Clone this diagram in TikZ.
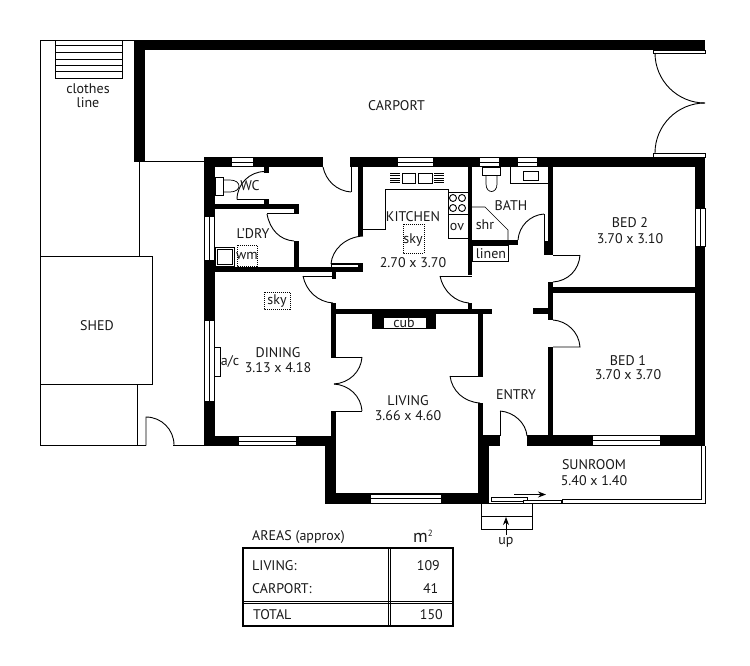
\documentclass[tikz,border=0pt]{standalone}
\usepackage{fontspec}
\usetikzlibrary{arrows.meta}
\setmainfont{PT Sans}
\tikzset{
  wall/.style={fill=black,draw=none},
  thin line/.style={draw=black,line width=0.9pt},
  fine/.style={draw=black,line width=0.7pt},
  winpane/.style={draw=black,fill=white,line width=0.7pt},
  txt/.style={inner sep=0pt,yshift=-0.8pt,font=\fontsize{14}{15}\selectfont,text=black!90},
  dots/.style={draw=black,line width=0.9pt,dash pattern=on 1pt off 1pt},
  tip/.style={-{Stealth[length=8pt,width=6pt]}},
}
\newcommand{\wallrect}[4]{\fill[wall] (#1,#2) rectangle (#3,#4);}
% horizontal window in wall
\newcommand{\hwin}[4]{\filldraw[winpane] (#1,#3) rectangle (#2,#4);\draw[fine] (#1,{(#3+#4)/2}) -- (#2,{(#3+#4)/2});}
\begin{document}
\begin{tikzpicture}[x=1pt,y=-1pt]
\useasboundingbox (0,0) rectangle (750,665);
\fill[white] (0,0) rectangle (750,665);
% site lines
\draw[thin line] (134,40) -- (40,40) -- (40,445.5) -- (146,445.5);
\draw[thin line] (173,445.5) -- (205,445.5);
\draw[thin line] (139,162) -- (139,256);
\draw[thin line] (145,161.5) -- (205,161.5);
\draw[thin line] (137,384) -- (137,445.5);
% clothes line
\draw[thin line] (55,40) -- (55,78) -- (122,78) -- (122,40);
\foreach \yy in {45.7,52.3,59,65,71.7} \draw[thin line] (55,\yy) -- (122,\yy);
% shed
\filldraw[draw=black,fill=white,line width=1pt] (40,256) rectangle (152,384);
% side door
\draw[thin line] (146,445.5) -- (146,417) arc[start angle=-90,end angle=0,radius=28];
% carport
\wallrect{134}{40}{705}{50}
\wallrect{134}{40}{145}{162}
\filldraw[winpane] (653,50) rectangle (705,53);
\filldraw[winpane] (653,153) rectangle (705,157);
\draw[thin line] (655,53) arc[start angle=180,end angle=90,radius=50];
\draw[thin line] (655,153) arc[start angle=180,end angle=270,radius=50];
% house outer walls
\wallrect{204}{157}{323}{167}
\wallrect{350}{157}{705}{167}
\wallrect{204}{157}{214.5}{446}
\wallrect{695}{157}{705}{446}
\wallrect{204}{436}{336}{446}
\wallrect{325}{436}{336}{504}
\wallrect{325}{493}{489}{504}
\wallrect{478}{436}{489}{504}
\wallrect{478}{435}{500}{446}
\wallrect{527}{435}{705}{446}
% windows
\hwin{231}{253}{157.5}{166.5}
\hwin{397}{433}{157.5}{166.5}
\hwin{479}{499}{157.5}{166.5}
\hwin{517}{537}{157.5}{166.5}
\hwin{238}{296}{436.5}{445.5}
\hwin{370}{441}{494}{503.5}
\hwin{592}{660}{435.5}{445.5}
\filldraw[winpane] (204.5,216) rectangle (214.5,260);\draw[fine] (209.5,216) -- (209.5,260);
\filldraw[winpane] (204.5,320) rectangle (214.5,401);\draw[fine] (209.5,320) -- (209.5,401);
\filldraw[winpane] (695.5,208) rectangle (705,246);\draw[fine] (700,208) -- (700,246);
% WC door & laundry walls
\wallrect{263.5}{167}{269}{173}
\wallrect{264}{199}{269}{205}
\wallrect{214}{204}{299}{209}
\wallrect{294}{204}{299}{214}
\wallrect{294}{241}{299}{268}
\wallrect{214}{267}{336}{272}
\wallrect{331}{263}{363}{272}
\filldraw[winpane] (331,264) rectangle (358,267);
\wallrect{332}{272}{336}{279}
\draw[thin line] (237,199.5) -- (264,199.5);
\draw[thin line] (237,199.5) arc[start angle=180,end angle=270,radius=28];
\draw[line width=1.2pt] (267,213.5) -- (294,213.5);
\draw[thin line] (267,214) .. controls (270,230) and (280,240) .. (294,241);
% door from hall top
\draw[thin line] (323,167) .. controls (326,181) and (337,191) .. (351,192);
\draw[thin line] (351,192) -- (351,167);
% kitchen left wall and door
\wallrect{358}{167}{363}{236}
\draw[thin line] (331,264) .. controls (332,250) and (345,237) .. (363,236);
% dining door
\draw[thin line] (303,276) -- (332,276);
\draw[thin line] (303,276) .. controls (306,291) and (318,302) .. (333,303);
\wallrect{331}{303}{336}{357}
\wallrect{331}{411}{336}{437}
% double door
\draw[thin line] (331,357) -- (362,357);
\draw[thin line] (331,411) -- (362,411);
\draw[thin line] (362,357) .. controls (361,372) and (349,383) .. (334,384);
\draw[thin line] (362,411) .. controls (361,396) and (349,385) .. (334,384);
% living top wall + cub
\wallrect{331}{308.5}{492}{314}
\wallrect{372}{308.5}{436}{329}
\filldraw[draw=black,fill=white,line width=0.5pt] (383,317) rectangle (426,328);
% living right wall + door
\wallrect{478}{314}{483}{376}
\wallrect{478}{403}{483}{436}
\draw[thin line] (483,376) -- (450,376);
\draw[thin line] (450,376) .. controls (452,391) and (464,402) .. (480,403);
% kitchen / bath wall and door
\wallrect{468}{167}{472}{275}
\draw[thin line] (440,276) -- (472,276);
\draw[thin line] (440,276) .. controls (443,291) and (455,302) .. (469,303);
\wallrect{468}{303}{472}{309}
\wallrect{472}{240}{518}{245}
\filldraw[draw=black,fill=white,line width=0.8pt] (472,245) rectangle (508,261);
% bath door
\draw[thin line] (544,241) -- (544,214);
\draw[thin line] (518,240) .. controls (519,226) and (530,215) .. (544,214);
% central wall
\wallrect{548}{167}{553}{255}
\wallrect{544}{241}{553}{255}
\wallrect{548}{282}{553}{320}
\wallrect{533}{308}{553}{314}
\wallrect{548}{347}{553}{436}
\wallrect{553}{287}{695}{292.5}
% bed 2 door
\draw[thin line] (553,255) -- (580,255);
\draw[thin line] (580,255) .. controls (579,270) and (568,281) .. (553,282);
% bed 1 door
\draw[thin line] (553,320) .. controls (567,321) and (579,332) .. (580,347) -- (553,347);
% entry door
\draw[thin line] (500,436) -- (500,411);
\draw[thin line] (500,411) .. controls (514,412) and (526,423) .. (527,436);
% kitchen fittings
\draw[thin line] (363,229) -- (385,229) -- (385,189) -- (448,189) -- (448,238) -- (468,238);
\draw[thin line] (448,192) -- (468,192);
\draw[thin line] (448,214.5) -- (468,214.5);
\foreach \xc in {453,462} \foreach \yc in {198,208} \draw[thin line] (\xc,\yc) circle[radius=3.5];
\draw[fine] (402,173) rectangle (415,183);
\draw[fine] (418,173) rectangle (432,183);
\foreach \yy in {173.5,175.75,178,180.25,182.5} {\draw[fine] (390,\yy) -- (400,\yy);\draw[fine] (434,\yy) -- (444,\yy);}
% bath fittings
\draw[fine] (482,167) rectangle (500,175);
\draw[fine] (486,175) -- (486,184) .. controls (486,194) and (497,194) .. (497,184) -- (497,175);
\draw[fine] (510,167) -- (510,183.5) -- (548,183.5);
\draw[fine] (523,171) rectangle (538,180);
\draw[fine] (472,207) -- (485,207) -- (508,230) -- (508,240);
% WC fittings
\draw[fine] (215,177) rectangle (223,195);
\draw[fine] (223,180) -- (230,180) .. controls (236,180) and (239,183) .. (239,186) .. controls (239,189) and (236,192) .. (230,192) -- (223,192);
% washing machine
\draw[fine] (215,247) rectangle (234,266);
\draw[fine] (217,249) rectangle (232,264);
\draw[dots] (237,245) rectangle (257,266);
\draw[dots] (264,292) rectangle (290,309);
\draw[dots] (403,224) rectangle (424,253);
% a/c
\draw[fine] (214.5,347) rectangle (220,376);
% sunroom
\draw[thin line] (705,446) -- (705,503) -- (489,503);
\draw[thin line] (701,446) -- (701,499) -- (562,499) -- (562,503);
\filldraw[winpane] (491,497) rectangle (527,501);
\filldraw[winpane] (523,500) rectangle (561,503);
\draw[thin line,tip] (514,494.5) -- (546,494.5);
% steps
\draw[thin line] (481,503) rectangle (532,529);
\draw[thin line] (481,516) -- (532,516);
\coordinate (upstart) at (506,535);
\coordinate (upend) at (506,517);
\draw[thin line,tip] (upstart) -- (upend);
% table
\draw[line width=1.1pt] (243,548) rectangle (453,626);
\draw[line width=0.9pt] (388,548) -- (388,626);
\draw[line width=0.9pt] (390.5,548) -- (390.5,626);
\draw[line width=0.9pt] (243,601) -- (453,601);
\draw[line width=0.9pt] (243,603.5) -- (453,603.5);
% labels
\node[txt,align=center] (lclothes) at (88,95) {clothes\\[-0.5pt]line};
\node[txt] (lcarport) at (396.5,105) {CARPORT};
\node[txt] (lshed) at (97,325) {SHED};
\node[txt] (lwc) at (250,185) {WC};
\node[txt] (lldry) at (253,233) {L'DRY};
\node[txt] (lwm) at (247,255) {wm};
\node[txt] (lsky) at (277,300) {sky};
\node[txt] (lkit) at (413,216) {KITCHEN};
\node[txt] (lsky2) at (413,239) {sky};
\node[txt] (lkitd) at (413,262) {2.70 x 3.70};
\node[txt] (lov) at (457,226) {ov};
\node[txt] (lshr) at (485,224) {shr};
\node[txt] (lbath) at (511,205) {BATH};
\node[txt] (llinen) at (491,253) {linen};
\node[txt] (lbed2) at (630,222) {BED 2};
\node[txt] (lbed2d) at (630,238) {3.70 x 3.10};
\node[txt] (lcub) at (404,322) {cub};
\node[txt] (lbed1) at (628,360) {BED 1};
\node[txt] (lbed1d) at (628,374) {3.70 x 3.70};
\node[txt] (lac) at (230,361) {a/c};
\node[txt] (ldin) at (278,352) {DINING};
\node[txt] (ldind) at (278,367) {3.13 x 4.18};
\node[txt] (lliv) at (408,400) {LIVING};
\node[txt] (llivd) at (408,415) {3.66 x 4.60};
\node[txt] (lent) at (516,394) {ENTRY};
\node[txt] (lsun) at (594,464) {SUNROOM};
\node[txt] (lsund) at (594,480) {5.40 x 1.40};
\node[txt] (lup) at (506,542) {up};
\node[txt,anchor=west] (tareas) at (252,536) {AREAS (approx)};
\node[txt] (tm) at (423,535) {\fontsize{18}{18}\selectfont m\raisebox{6pt}{\fontsize{9}{9}\selectfont 2}};
\node[txt,anchor=west] (tliv) at (252,565) {LIVING:};
\node[txt,anchor=east] (tliv2) at (440,565) {109};
\node[txt,anchor=west] (tcar) at (252,588) {CARPORT:};
\node[txt,anchor=east] (tcar2) at (438.5,588) {41};
\node[txt,anchor=west] (ttot) at (253,614) {TOTAL};
\node[txt,anchor=east] (ttot2) at (443,614) {150};
\end{tikzpicture}
\end{document}
